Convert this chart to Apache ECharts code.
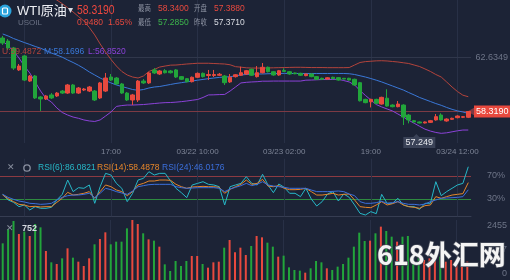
<!DOCTYPE html>
<html><head><meta charset="utf-8">
<script src="https://cdn.jsdelivr.net/npm/echarts/dist/echarts.min.js"></script>
<style>html,body{margin:0;padding:0;background:#1c2336;}#c{width:510px;height:280px;}</style>
</head><body><div id="c"></div><script>
// ---------------- data ----------------
const tickIndex = [20, 36, 52, 68, 84];
const tickText = ['17:00', '03/22 10:00', '03/23 02:00', '19:00', '03/24 12:00'];
const vGridIndex = [4, 20, 36, 52, 68, 84];

const opens = [
64.14,63.90,63.35,61.61,62.72,60.73,61.13,59.47,59.31,59.63,
59.55,59.94,59.78,60.42,59.78,60.02,59.94,59.94,59.39,59.94,
61.05,60.97,60.50,59.78,59.23,59.23,60.73,60.58,61.61,61.29,
61.55,61.53,61.61,61.08,60.92,60.68,61.03,61.34,61.17,61.17,
61.19,61.13,60.66,61.08,61.19,61.29,61.66,61.08,61.39,61.82,
61.47,61.21,61.57,61.47,61.37,61.34,61.16,61.29,61.08,60.95,
60.89,61.03,61.00,60.95,60.95,60.87,60.60,59.28,59.09,59.28,
58.91,59.37,58.83,58.70,58.83,58.04,57.59,57.49,57.41,57.46,
57.65,58.04,57.57,57.70,57.83,57.86,57.86];
const closes = [
63.74,63.35,61.76,61.92,60.81,61.13,59.39,59.31,59.55,59.39,
59.78,59.78,60.42,59.78,60.18,60.10,60.26,59.23,60.58,60.97,
60.81,60.50,59.78,59.23,59.63,60.73,60.58,61.37,61.37,61.53,
61.39,61.39,61.05,60.87,60.68,61.03,61.34,61.08,61.25,61.25,
61.27,60.60,61.03,61.23,61.39,61.55,61.19,61.39,61.82,61.47,
61.21,61.55,61.49,61.29,61.31,61.19,61.29,61.08,60.87,60.87,
60.99,60.92,60.81,60.89,60.81,60.42,59.17,59.02,59.28,58.97,
59.44,58.75,58.70,58.91,57.88,57.65,57.49,57.41,57.49,57.59,
57.91,57.65,57.72,57.78,57.96,57.91,58.319];
const lows = [
63.59,63.19,61.61,61.53,60.73,60.66,59.31,58.36,59.23,59.31,
59.47,59.71,59.71,59.71,59.71,59.94,59.86,59.15,59.31,59.86,
60.73,60.42,59.71,59.15,58.83,59.07,60.50,60.50,61.29,61.21,
61.33,61.33,60.97,60.81,60.62,60.62,60.97,61.01,60.81,61.05,
61.13,60.42,60.58,61.01,61.13,61.21,61.13,61.01,61.33,61.41,
61.15,61.15,61.45,61.23,61.27,61.13,61.11,61.03,60.81,60.81,
60.84,60.87,60.76,60.85,60.77,60.36,59.11,58.97,58.64,58.91,
58.86,58.70,58.65,58.65,57.249,57.38,57.43,57.37,57.37,57.41,
57.59,57.59,57.51,57.65,57.78,57.80,57.80];
const highs = [
64.30,64.06,63.43,62.08,62.79,61.21,61.21,59.55,59.63,59.78,
59.86,60.02,60.50,60.50,60.26,60.18,60.34,60.02,60.66,61.37,
61.29,61.05,60.58,59.86,59.71,60.81,60.89,61.45,61.76,61.61,
61.68,61.61,61.68,61.13,60.97,61.09,61.41,61.41,61.61,61.61,
61.37,61.21,61.29,61.29,61.87,61.61,61.72,61.92,62.16,61.88,
61.53,61.61,61.74,61.53,61.41,61.39,61.33,61.33,61.13,61.00,
61.05,61.08,61.05,60.97,60.99,60.92,60.66,59.33,59.33,59.33,
59.49,60.08,58.89,59.15,58.89,58.12,57.65,57.53,57.53,57.65,
58.12,58.18,57.78,57.83,58.02,57.96,58.34];

const bollUpper = [
68.50,68.60,68.70,68.80,68.80,68.70,68.40,68.00,67.60,67.35,
67.15,66.86,66.54,66.20,65.84,65.49,64.97,64.38,63.67,63.03,
62.44,61.92,61.49,61.21,61.05,60.97,61.13,61.49,61.65,61.84,
61.92,61.99,62.00,62.04,62.08,62.11,62.14,62.14,62.14,62.12,
62.10,62.08,62.02,61.87,61.83,61.78,61.76,61.76,61.76,61.77,
61.78,61.79,61.80,61.81,61.82,61.82,61.81,61.80,61.80,61.80,
61.79,61.79,61.79,61.79,61.80,62.00,62.20,62.27,62.30,62.33,
62.34,62.32,62.28,62.24,62.18,62.12,62.00,61.88,61.69,61.49,
61.25,61.05,60.66,60.26,59.90,59.61,59.4872];
const bollMid = [
64.46,64.30,64.10,63.94,63.78,63.63,63.47,63.33,63.15,62.95,
62.79,62.62,62.40,62.20,61.98,61.73,61.45,61.21,60.97,60.77,
60.58,60.42,60.30,60.18,60.06,60.00,60.06,60.18,60.26,60.30,
60.38,60.46,60.54,60.60,60.67,60.73,60.80,60.86,60.92,60.97,
61.02,61.05,61.07,61.15,61.21,61.25,61.27,61.29,61.29,61.31,
61.32,61.33,61.34,61.33,61.33,61.33,61.33,61.33,61.33,61.33,
61.33,61.33,61.33,61.33,61.31,61.25,61.15,61.05,60.93,60.80,
60.66,60.50,60.34,60.18,60.02,59.82,59.63,59.43,59.27,59.11,
58.95,58.81,58.64,58.49,58.37,58.28,58.1696];
const bollLower = [
63.90,63.51,63.11,62.56,61.92,61.37,60.66,59.94,59.35,59.07,
58.60,58.24,58.04,57.88,57.78,57.65,57.57,57.53,57.65,57.96,
58.28,58.72,58.79,58.83,58.83,58.85,58.87,58.91,58.95,58.99,
59.02,59.03,59.06,59.10,59.15,59.21,59.27,59.43,59.63,59.64,
59.66,59.67,59.94,60.26,60.58,60.63,60.66,60.68,60.72,60.72,
60.73,60.73,60.73,60.73,60.73,60.73,60.80,60.81,60.83,60.85,
60.85,60.86,60.87,60.77,60.66,60.42,59.98,59.59,59.23,58.87,
58.68,58.52,58.36,58.12,57.88,57.62,57.39,57.15,56.92,56.77,
56.66,56.59,56.63,56.71,56.79,56.85,56.852];

const rsi6 = [
38.1,28.3,24.2,16.7,19.6,10.9,16.7,13.8,13.8,15.5,
28.3,38.1,63.0,42.8,49.7,48.6,54.4,22.5,51.4,74.6,
71.7,57.2,48.6,25.4,39.9,63.0,65.9,77.5,71.7,74.6,
74.6,61.3,48.6,41.0,32.3,54.4,57.2,60.1,55.5,54.4,
51.4,19.6,51.4,54.4,57.2,68.8,57.2,54.4,72.9,54.4,
41.0,56.1,50.3,39.9,39.9,34.1,48.6,30.0,17.8,25.4,
38.7,42.8,26.5,38.7,32.9,19.6,5.1,2.2,8.0,4.5,
38.1,22.5,22.5,31.2,19.6,16.7,16.7,12.0,22.5,22.5,
60.1,35.8,42.8,48.6,54.4,57.2,86.0821];
const rsi14 = [
36.9,30.6,25.4,20.7,19.6,16.7,17.3,16.1,16.7,16.7,
24.2,31.2,41.6,36.9,38.1,39.9,42.8,31.2,42.8,54.4,
51.4,45.7,42.8,35.8,42.8,54.4,57.2,61.3,61.3,63.0,
63.0,62.5,55.5,51.4,48.6,50.9,51.4,52.0,51.4,51.4,
50.3,39.9,46.8,51.4,55.5,63.0,55.5,57.2,64.2,52.6,
51.4,53.2,48.6,46.2,46.2,46.8,48.6,42.8,36.9,36.9,
38.1,39.9,36.9,38.1,38.7,28.3,16.7,15.5,14.9,19.6,
25.4,19.6,21.9,25.4,19.6,16.7,15.5,13.8,18.4,19.6,
34.1,31.2,34.1,36.9,38.1,39.3,58.4878];
const rsi24 = [
38.1,32.9,29.4,26.5,24.8,22.5,21.9,20.7,21.3,22.5,
28.3,32.9,35.8,36.9,36.9,38.1,39.9,32.3,39.9,48.6,
46.2,42.8,40.4,38.1,43.9,51.4,53.2,54.9,55.5,55.5,
55.5,55.5,51.4,49.7,48.6,49.1,49.7,49.7,49.7,49.7,
48.6,42.8,47.4,50.3,53.2,57.2,53.2,55.5,60.1,54.4,
52.6,51.4,50.3,48.6,48.6,48.6,48.6,45.6,42.8,42.8,
42.8,43.3,43.9,42.8,38.7,35.8,25.4,22.5,22.5,23.6,
26.0,22.5,23.6,25.4,22.5,20.7,20.7,19.6,21.3,25.4,
28.3,31.2,31.7,32.3,32.9,34.1,46.0176];

const volumes = [
1500,2073,2414,1882,1978,1800,2292,2155,1187,723,
655,887,1296,914,750,573,887,1460,1678,1951,
1460,1569,1569,2114,2455,2292,1910,1664,1610,1364,
641,368,777,573,777,982,982,655,505,723,
750,1323,1637,1132,1323,1023,1391,1800,1746,1528,
1364,955,996,518,409,382,300,478,777,723,
478,409,546,655,914,1364,1937,1596,1610,1910,
2183,2005,1773,1569,1773,1800,750,955,819,887,
887,955,750,819,614,819,752];

const gridPrice = 62.6349;
const lastPrice = 58.319;
const priceMin = 55.824, priceMax = 67.150;
const volMax = 2455;
const rsiLevels = [70, 30];
const header = {name: 'WTI原油', code: 'USOIL', price: '58.3190', change: '0.9480', pct: '1.65%',
  high: '58.3400', open: '57.3880', low: '57.2850', prev: '57.3710'};
const bollText = ['U:59.4872', 'M:58.1696', 'L:56.8520'];
const rsiText = ['RSI(6):86.0821', 'RSI(14):58.4878', 'RSI(24):46.0176'];
const volText = '752';

// ---------------- styling ----------------
const FONT = '"Liberation Sans","Noto Sans CJK SC",sans-serif';
const UP = '#e8493e', DOWN = '#22a53b';
const GRIDC = '#283046';
const AXT = '#6e7588';
const C_U = '#b3443c', C_M = '#3a78d8', C_L = '#8b42d8';
const C_R6 = '#27b8c8', C_R14 = '#e5862a', C_R24 = '#3b6fdc';

const cats = opens.map((_, i) => String(i));
const candleData = opens.map((o, i) => [o, closes[i], lows[i], highs[i]]);
const volData = volumes.map((v, i) => ({value: v, itemStyle: {color: closes[i] >= opens[i] ? UP : DOWN}}));
const vLines = vGridIndex.map(i => ({xAxis: i}));
const vLineStyle = {color: GRIDC, type: 'solid', width: 1};

const L = 0, R = 39;
function xAx(gridIndex, extra) {
  return Object.assign({
    type: 'category', data: cats, gridIndex, boundaryGap: true,
    axisLine: {show: false}, axisTick: {show: false}, axisLabel: {show: false}, splitLine: {show: false}
  }, extra || {});
}
function txt(x, y, text, fill, size, extra, weight) {
  return Object.assign({type: 'text', x, y, silent: true, z: 50,
    style: {text, fill, font: (weight ? weight + ' ' : '') + size + 'px ' + FONT, verticalAlign: 'middle'}}, extra || {});
}

const option = {
  backgroundColor: '#1c2336',
  animation: false,
  grid: [
    {left: L, right: R, top: 0, height: 143},
    {left: L, right: R, top: 158.75, height: 57.5},
    {left: L, right: R, top: 220, height: 60}
  ],
  xAxis: [
    xAx(0, {axisLabel: {show: true, interval: (i) => tickIndex.indexOf(i) >= 0,
      formatter: (v, i) => tickText[tickIndex.indexOf(Number(v))] || '',
      color: '#7d8496', fontSize: 8, fontFamily: FONT, margin: 5}}),
    xAx(1, {position: 'top', offset: 2, axisLine: {show: true, lineStyle: {color: '#363d52'}}}),
    xAx(2, {position: 'top', offset: 1, axisLine: {show: true, lineStyle: {color: '#363d52'}}})
  ],
  yAxis: [
    {type: 'value', gridIndex: 0, min: priceMin, max: priceMax, show: false, splitLine: {show: false}},
    {type: 'value', gridIndex: 1, min: 0, max: 100, show: false, splitLine: {show: false}},
    {type: 'value', gridIndex: 2, min: 0, max: volMax, interval: volMax / 2, position: 'right',
      axisLine: {show: false}, axisTick: {show: false}, splitLine: {show: false},
      axisLabel: {show: true, inside: false, margin: 37, align: 'right', color: AXT, fontSize: 9, fontFamily: FONT,
        formatter: (v) => v >= volMax ? '{t|' + volMax + '}' : (v <= 0 ? '{b|0}' : String(Math.floor(v))),
        rich: {t: {padding: [12, 0, 0, 0], color: AXT, fontSize: 9}, b: {padding: [0, 0, 13, 0], color: AXT, fontSize: 9}}}}
  ],
  series: [
    {type: 'line', name: 'BOLL-U', xAxisIndex: 0, yAxisIndex: 0, data: bollUpper, symbol: 'none',
      lineStyle: {color: C_U, width: 1}, z: 3,
      markLine: {silent: true, symbol: 'none', z: 1, label: {show: false}, lineStyle: vLineStyle, data: vLines}},
    {type: 'line', name: 'BOLL-M', xAxisIndex: 0, yAxisIndex: 0, data: bollMid, symbol: 'none',
      lineStyle: {color: C_M, width: 1}, z: 3,
      markLine: {silent: true, symbol: 'none', z: 1,
        lineStyle: {color: '#30374b', type: 'solid', width: 1},
        label: {show: true, position: 'end', distance: 4, color: AXT, fontSize: 9, fontFamily: FONT,
          formatter: () => '{r|' + gridPrice.toFixed(4) + '}', rich: {r: {width: 33, align: 'right', color: AXT, fontSize: 9}}},
        data: [{yAxis: gridPrice}]}},
    {type: 'line', name: 'BOLL-L', xAxisIndex: 0, yAxisIndex: 0, data: bollLower, symbol: 'none',
      lineStyle: {color: C_L, width: 1}, z: 3},
    {type: 'candlestick', name: 'K', xAxisIndex: 0, yAxisIndex: 0, data: candleData, barWidth: 4, z: 4,
      itemStyle: {color: UP, color0: DOWN, borderColor: UP, borderColor0: DOWN, borderWidth: 1},
      markLine: {silent: true, z: 2, symbol: ['none', 'triangle'], symbolSize: [8, 7], symbolRotate: 90,
        lineStyle: {color: '#7c3a44', type: 'solid', width: 1},
        label: {show: true, position: 'end', distance: 3, formatter: () => lastPrice.toFixed(4),
          color: '#ffffff', backgroundColor: UP, padding: [2, 2, 1, 2], fontSize: 9, fontFamily: FONT},
        itemStyle: {color: UP},
        data: [{yAxis: lastPrice}]},
      markPoint: {symbol: 'path://M0,3 L10,3 L13,0 L16,3 L32,3 L32,14 L0,14 Z', symbolSize: [32, 14],
        symbolOffset: [16, 16], itemStyle: {color: '#3a4257'},
        label: {show: true, color: '#e6e8ee', fontSize: 9, fontFamily: FONT, offset: [0, 1.5],
          formatter: (p) => Number(p.value).toFixed(3)},
        data: [{type: 'min', valueDim: 'lowest', name: 'min'}]}},
    {type: 'line', name: 'RSI6', xAxisIndex: 1, yAxisIndex: 1, data: rsi6, symbol: 'none',
      lineStyle: {color: C_R6, width: 1}, z: 3},
    {type: 'line', name: 'RSI14', xAxisIndex: 1, yAxisIndex: 1, data: rsi14, symbol: 'none',
      lineStyle: {color: C_R14, width: 1}, z: 3},
    {type: 'line', name: 'RSI24', xAxisIndex: 1, yAxisIndex: 1, data: rsi24, symbol: 'none',
      lineStyle: {color: C_R24, width: 1}, z: 3,
      markLine: {silent: true, symbol: 'none', z: 1,
        label: {show: true, position: 'end', distance: 4, fontSize: 9, fontFamily: FONT, color: AXT,
          formatter: (p) => p.value === undefined ? '' : '{r|' + p.value + '%}',
          rich: {r: {width: 30, align: 'right', color: AXT, fontSize: 9}}},
        data: [
          {yAxis: rsiLevels[0], lineStyle: {color: '#8c3a42', type: 'solid', width: 1}},
          {yAxis: rsiLevels[1], lineStyle: {color: '#2e8b40', type: 'solid', width: 1}}
        ].concat(vLines.map(d => Object.assign({}, d, {lineStyle: vLineStyle, label: {show: false}})))}},
    {type: 'bar', name: 'VOL', xAxisIndex: 2, yAxisIndex: 2, data: volData, barWidth: 2, z: 3,
      markLine: {silent: true, symbol: 'none', z: 1, label: {show: false}, lineStyle: vLineStyle, data: vLines}}
  ],
  graphic: [
    // header
    {type: 'circle', shape: {cx: 5, cy: 11, r: 6.5}, style: {fill: '#2aa3dc'}, silent: true, z: 50},
    {type: 'rect', shape: {x: 2.5, y: 8, width: 5, height: 6, r: 1}, style: {fill: 'none', stroke: '#ffffff', lineWidth: 1.2}, silent: true, z: 51},
    txt(17, 11, header.name, '#eceef3', 13),
    txt(68, 10, '▾', '#d6d9e0', 10),
    txt(77, 10, header.price, '#f0483e', 13, {scaleX: 0.8}),
    txt(18, 23, header.code, '#6a7184', 8),
    txt(77, 23, header.change, '#e8493e', 8.5),
    txt(108, 23, header.pct, '#e8493e', 8.5),
    txt(138, 9, '最高', '#8d93a3', 8, {scaleX: 0.8}),
    txt(158, 9, header.high, '#e8493e', 8.5),
    txt(194, 9, '开盘', '#8d93a3', 8, {scaleX: 0.8}),
    txt(214, 9, header.open, '#e8493e', 8.5),
    txt(138, 23, '最低', '#8d93a3', 8, {scaleX: 0.8}),
    txt(158, 23, header.low, '#3cb54b', 8.5),
    txt(194, 23, '昨收', '#8d93a3', 8, {scaleX: 0.8}),
    txt(214, 23, header.prev, '#d8dbe2', 8.5),
    // BOLL legend
    txt(2, 51.5, bollText[0], C_U, 8.5),
    txt(44, 51.5, bollText[1], C_M, 8.5),
    txt(88, 51.5, bollText[2], C_L, 8.5),
    // RSI legend
    txt(7, 168, '✕', '#8a90a0', 9),
    {type: 'circle', shape: {cx: 27, cy: 168, r: 3.2}, style: {fill: 'none', stroke: '#8a90a0', lineWidth: 1.3}, silent: true, z: 50},
    txt(38, 168, rsiText[0], C_R6, 8.5),
    txt(97, 168, rsiText[1], C_R14, 8.5),
    txt(162, 168, rsiText[2], C_R24, 8.5),
    // VOL legend
    txt(6, 229, '✕', '#8a90a0', 9),
    txt(22, 229, volText, '#d5d8df', 9, null, 'bold'),
    // watermark
    {type: 'text', x: 377, y: 255, silent: true, z: 60,
      style: {text: '618外汇网', fill: '#f4f4f4', stroke: '#4a4f5c', lineWidth: 1.5,
        font: 'bold 27px "Noto Sans CJK SC",sans-serif', verticalAlign: 'middle'}}
  ]
};
const chart = echarts.init(document.getElementById('c'), null, {renderer: 'canvas'});
chart.setOption(option);
</script></body></html>
